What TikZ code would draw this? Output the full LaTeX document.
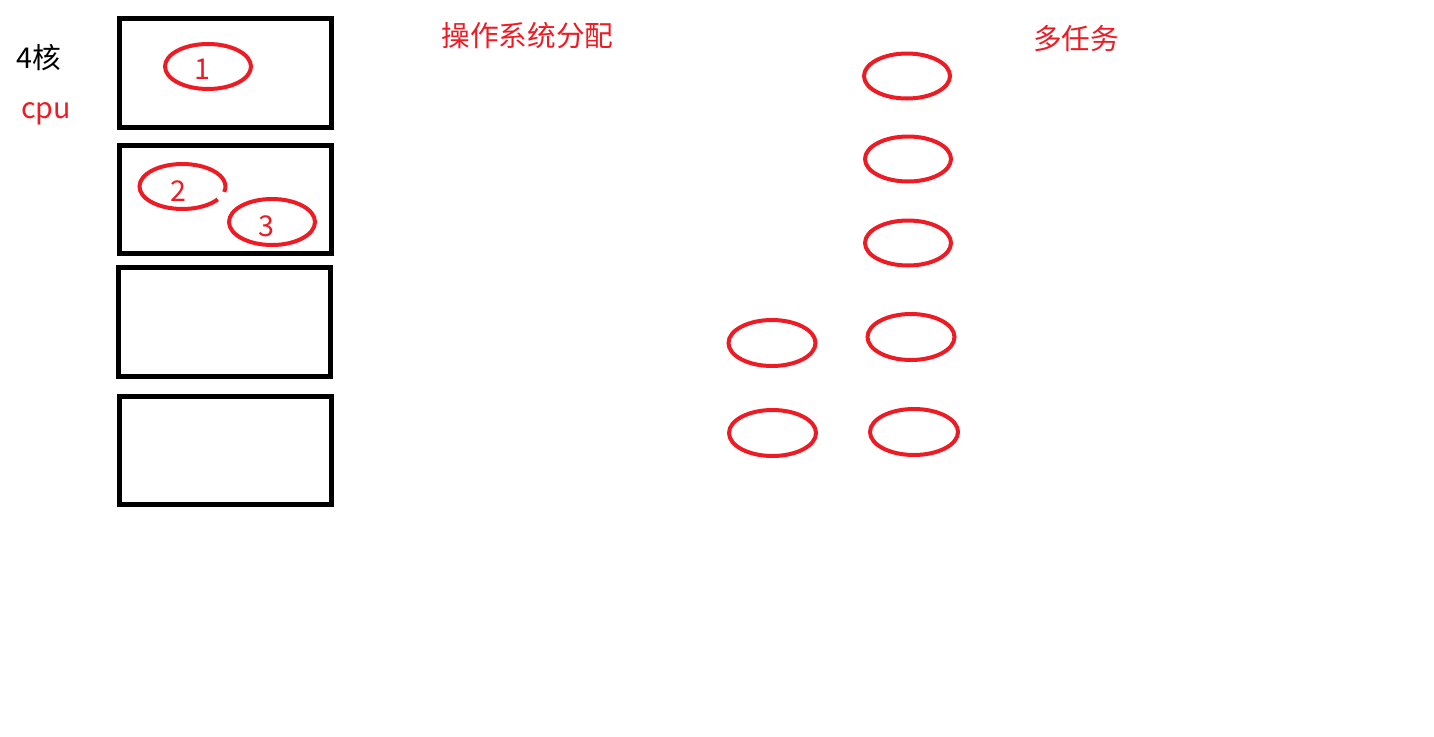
\documentclass[tikz,border=0pt]{standalone}
\usepackage{fontspec}
\setmainfont{Noto Sans CJK SC}

\definecolor{paintred}{RGB}{237,28,36}
\tikzset{every picture/.style={line width=0.75pt}}
\tikzset{
  corebox/.style={draw=black, line width=3.4pt},
  taskring/.style={draw=paintred, line width=3pt},
  bigtext/.style={inner sep=0.75pt, font=\fontsize{21.5}{26}\selectfont}
}

\begin{document}
\begin{tikzpicture}[x=0.75pt,y=0.75pt,yscale=-1,xscale=1]
\useasboundingbox (0,0) rectangle (1434,736); %set diagram to 1434 x 736

%Rectangles: cpu cores
\draw [corebox] (119.5,18.5) rectangle (331.5,127.5) ;
\draw [corebox] (119.5,145.5) rectangle (331.5,253.5) ;
\draw [corebox] (118.5,267.5) rectangle (330.5,376.5) ;
\draw [corebox] (119.5,396.5) rectangle (331.5,504.5) ;

%Ellipses inside cores
\draw [taskring] (208,66.5) ellipse (43 and 22.5) ;
\draw [taskring] (217.7,199.4) arc [start angle=35, end angle=374, x radius=43, y radius=22.5] ;
\draw [taskring] (272,222) ellipse (43 and 23) ;

%Ellipses: tasks
\draw [taskring] (907,76) ellipse (43 and 22.5) ;
\draw [taskring] (908,159) ellipse (43 and 22.5) ;
\draw [taskring] (908,243) ellipse (43 and 22.5) ;
\draw [taskring] (911,337) ellipse (43.5 and 23) ;
\draw [taskring] (914,432) ellipse (44 and 23) ;
\draw [taskring] (772,343) ellipse (43.5 and 23) ;
\draw [taskring] (772.5,433) ellipse (43.5 and 23) ;

% Text Node
\draw (39,58) node [bigtext] (cores) {4核};
% Text Node
\draw (46,118) node [anchor=base, bigtext, color=paintred] (cpu) {cpu};
% Text Node
\draw (202,69) node [bigtext, color=paintred] (one) {1};
% Text Node
\draw (178,191) node [bigtext, color=paintred] (two) {2};
% Text Node
\draw (266,226) node [bigtext, color=paintred] (three) {3};
% Text Node
\draw (527.5,36) node [bigtext, color=paintred] (osalloc) {操作系统分配};
% Text Node
\draw (1076,39) node [bigtext, color=paintred] (multitask) {多任务};

\end{tikzpicture}
\end{document}
